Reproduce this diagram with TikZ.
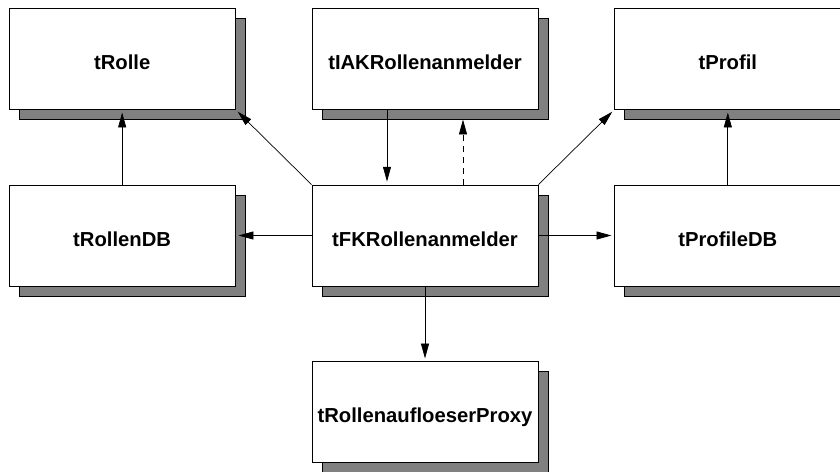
\documentclass[tikz,border=0pt]{standalone}
\usepackage{fontspec}
\setmainfont{Liberation Sans}
\usetikzlibrary{arrows.meta, positioning, shadows}

\begin{document}
\begin{tikzpicture}[
    node distance=1.875cm and 1.9cm,
    class/.style={rectangle, draw, fill=white, line width=0.6pt, minimum width=5.65cm, minimum height=2.525cm,
        text height=15pt, text depth=0pt, font=\fontsize{14.4}{16}\selectfont\bfseries,
        general shadow={shadow xshift=0.25cm, shadow yshift=-0.25cm, fill=black!50, draw=black, line width=0.6pt}},
    arrow/.style={-{Triangle[length=3.7mm, width=2mm]}, line width=0.5pt, shorten >=0.75mm},
    ret/.style={arrow, dash pattern=on 1.5mm off 1.2mm, shorten >=0.25cm}
]
\useasboundingbox (0,0) rectangle (21,-11.8);

\node[class] (fk) at (10.625,-5.8875) {tFKRollenanmelder};
\node[class, above=of fk] (iak) {tIAKRollenanmelder};
\node[class, left=of fk] (rollendb) {tRollenDB};
\node[class, right=of fk] (profiledb) {tProfileDB};
\node[class, above=of rollendb] (rolle) {tRolle};
\node[class, above=of profiledb] (profil) {tProfil};
\node[class, below=of fk] (proxy) {tRollenaufloeserProxy};

\draw[arrow] (rollendb) -- (rolle);
\draw[arrow] (profiledb) -- (profil);
\draw[arrow] (fk.north west) -- (rolle.south east);
\draw[arrow] (fk.north east) -- (profil.south west);
\draw[arrow] (fk) -- (rollendb);
\draw[arrow] (fk) -- (profiledb);
\draw[arrow] (fk) -- (proxy);
\draw[arrow] ([xshift=-0.95cm]iak.south) -- ([xshift=-0.95cm]fk.north);
\draw[ret] ([xshift=0.95cm]fk.north) -- ([xshift=0.95cm]iak.south);

\end{tikzpicture}
\end{document}
